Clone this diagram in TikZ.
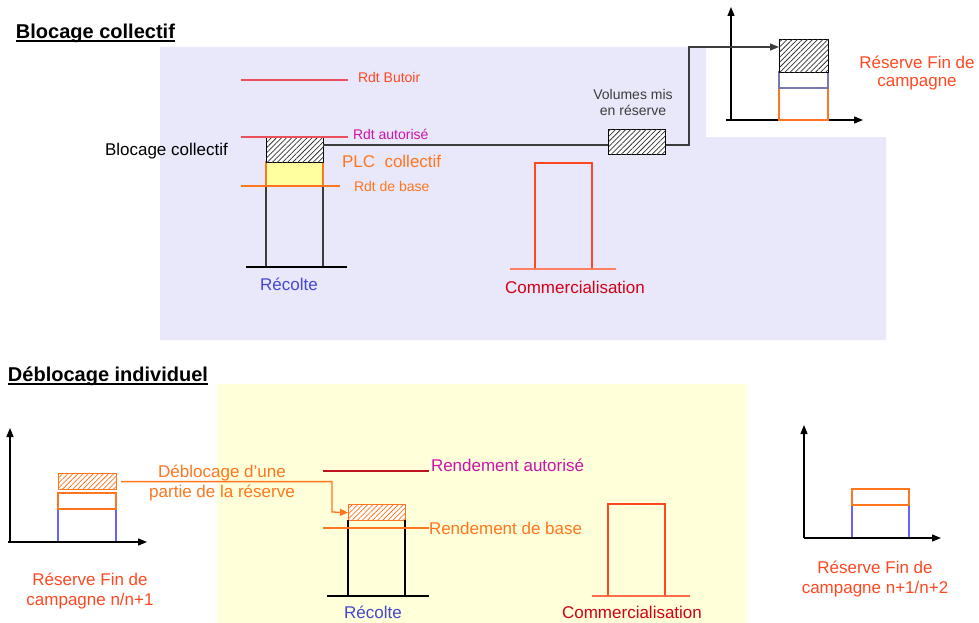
\documentclass[tikz,border=0pt]{standalone}
\usepackage{fontspec}
\setmainfont{Liberation Sans}
\usetikzlibrary{patterns.meta,arrows.meta}
\definecolor{bgblue}{RGB}{232,232,250}
\definecolor{bgyellow}{RGB}{255,255,218}
\definecolor{ored}{RGB}{255,72,32}
\definecolor{orng}{RGB}{255,118,30}
\definecolor{magen}{RGB}{204,20,170}
\definecolor{dred}{RGB}{210,0,20}
\definecolor{rblue}{RGB}{70,70,210}
\definecolor{lblue}{RGB}{100,100,255}
\definecolor{lred}{RGB}{235,80,90}
\definecolor{dkred}{RGB}{190,20,30}
\definecolor{ylw}{RGB}{255,255,160}
\definecolor{gblue}{RGB}{120,120,170}
\definecolor{dgray}{RGB}{60,60,60}
\begin{document}
\begin{tikzpicture}[x=1pt,y=-1pt,
  lbl/.style={inner sep=0pt,outer sep=0pt},
  f14/.style={font=\fontsize{14}{16}\selectfont},
  f17/.style={font=\fontsize{17}{20}\selectfont},
  head/.style={lbl,anchor=base west,font=\bfseries\fontsize{20}{23}\selectfont},
  hatchk/.style={draw=black,line width=1.2pt,fill=white,postaction={pattern={Lines[angle=45,distance=3.6pt,line width=0.75pt]},pattern color=black!80}},
  hatcho/.style={draw=orng,line width=1.2pt,fill=white,postaction={pattern={Lines[angle=45,distance=3.6pt,line width=0.75pt]},pattern color=orng}},
  axis/.style={line width=1.3pt,-{Triangle[length=9pt,width=7pt]}},
  thick1/.style={line width=1.3pt}]
\useasboundingbox (0,0) rectangle (979,623);
% backgrounds
\fill[bgblue] (160,47) -- (706,47) -- (706,137) -- (886,137) -- (886,340) -- (160,340) -- cycle;
\fill[bgyellow] (217,384) rectangle (747,623);

% ===== Top section =====
\node[head] (h1) at (16,38.5) {Blocage collectif};
\draw[line width=1.3pt] ([yshift=-2.5pt]h1.base west) -- ([yshift=-2.5pt]h1.base east);

% Recolte bar
\fill[ylw] (266,162) rectangle (323,186);
\draw[orng,thick1] (266,162) rectangle (323,186);
\node[hatchk,minimum width=57pt,minimum height=25pt,inner sep=0pt,anchor=north west] (hb) at (266,137) {};
\draw[dgray,thick1] (266,186) -- (266,267);
\draw[dgray,thick1] (323,186) -- (323,267);
\draw[black,thick1] (246,267) -- (347,267);
\draw[lred,line width=1.2pt] (241,80) -- (348,80);
\draw[lred,line width=1.2pt] (241,137) -- (348,137);
\draw[orng,line width=1.2pt] (241,186) -- (340,186);

\node[lbl,f14,text=ored,anchor=west] (butoir) at (358,77) {Rdt Butoir};
\node[lbl,f14,text=magen,anchor=west] (autor) at (353,134) {Rdt autorisé};
\node[lbl,f17,text=orng,anchor=west] (plc) at (342,161) {PLC\ \ collectif};
\node[lbl,f14,text=orng,anchor=west] (base) at (354,186) {Rdt de base};
\node[lbl,f17,anchor=west] (bc) at (105,151) {Blocage collectif};
\node[lbl,f17,text=rblue] (rec1) at (289,284) {Récolte};

% Commercialisation bar
\draw[ored,thick1] (535,269) -- (535,163) -- (592,163) -- (592,269);
\draw[ored!70,thick1] (510,269) -- (616,269);
\node[lbl,f17,text=dred] (com1) at (575,287) {Commercialisation};

% reserve
\node[hatchk,minimum width=57pt,minimum height=25pt,inner sep=0pt] (vres) at (637,142) {};
\node[lbl,f14,text=dgray,align=center] (volt) at (633,102) {Volumes mis\\en réserve};
\coordinate (c0) at (323,145);
\coordinate (k1) at (689,47);

% right axes (top)
\coordinate (o1) at (731,120);
\draw[axis] (726,120) -- (863,120);
\draw[axis] (o1) -- (731,7);
\draw[orng,thick1] (779,88) rectangle (828,120);
\draw[gblue,thick1] (779,72) rectangle (828,88);
\node[hatchk,minimum width=49pt,minimum height=33pt,inner sep=0pt,anchor=north west] (tgt) at (779,39) {};
\node[lbl,f17,text=ored,align=center,font=\fontsize{17}{18}\selectfont] (rfc) at (917,73) {Réserve Fin de\\campagne};

\draw[dgray,thick1] (c0) -- (vres.west |- c0);
\draw[dgray,thick1,-{Triangle[length=9pt,width=7pt]}] (vres.east |- c0) -| (k1) -- (k1 -| tgt.west);

% ===== Bottom section =====
\node[head] (h2) at (8,381.5) {Déblocage individuel};
\draw[line width=1.3pt] ([yshift=-2.5pt]h2.base west) -- ([yshift=-2.5pt]h2.base east);

% left axes
\draw[lblue,thick1] (58,509) -- (58,542);
\draw[lblue,thick1] (116,509) -- (116,542);
\draw[orng,thick1] (58,493) rectangle (116,509);
\node[hatcho,minimum width=58pt,minimum height=16pt,inner sep=0pt,anchor=north west] (lres) at (58,473) {};
\draw[axis] (8,542) -- (147,542);
\draw[axis] (10,542) -- (10,428);
\node[lbl,f17,text=ored,align=center] (rfl) at (90,591) {Réserve Fin de\\campagne n/n+1};

% middle recolte
\node[hatcho,minimum width=57pt,minimum height=16pt,inner sep=0pt,anchor=north west] (mres) at (348,504) {};
\draw[black,thick1] (348,520) -- (348,596);
\draw[black,thick1] (405,520) -- (405,596);
\draw[black,thick1] (327,596) -- (429,596);
\draw[dkred,line width=1.2pt] (323,471) -- (429,471);
\draw[orng,line width=1.2pt] (323,528) -- (429,528);
\node[lbl,f17,text=magen,anchor=west] (rda) at (431,465) {Rendement autorisé};
\node[lbl,f17,text=orng,anchor=west] (rdb) at (429,528) {Rendement de base};
\node[lbl,f17,text=rblue] (rec2) at (373,612) {Récolte};

% commercialisation bottom
\draw[ored,thick1] (608,596) -- (608,504) -- (665,504) -- (665,596);
\draw[ored!80,thick1] (592,596) -- (690,596);
\node[lbl,f17,text=dred] (com2) at (632,612) {Commercialisation};

% arrow deblocage
\coordinate (k2) at (332,512);
\draw[orng,thick1,-{Triangle[length=8pt,width=7pt]}] ([xshift=4pt]lres.east) -| (k2) -- (mres.west);
\node[lbl,f17,text=orng,align=center,font=\fontsize{17}{20}\selectfont] (debl) at (222,483) {Déblocage d’une\\partie de la réserve};

% right axes bottom
\draw[lblue,thick1] (852,505) rectangle (909,538);
\draw[orng,thick1] (852,489) rectangle (909,505);
\draw[axis] (804,538) -- (941,538);
\draw[axis] (804,538) -- (804,425);
\node[lbl,f17,text=ored,align=center] (rfr) at (875,579) {Réserve Fin de\\campagne n+1/n+2};
\end{tikzpicture}
\end{document}
